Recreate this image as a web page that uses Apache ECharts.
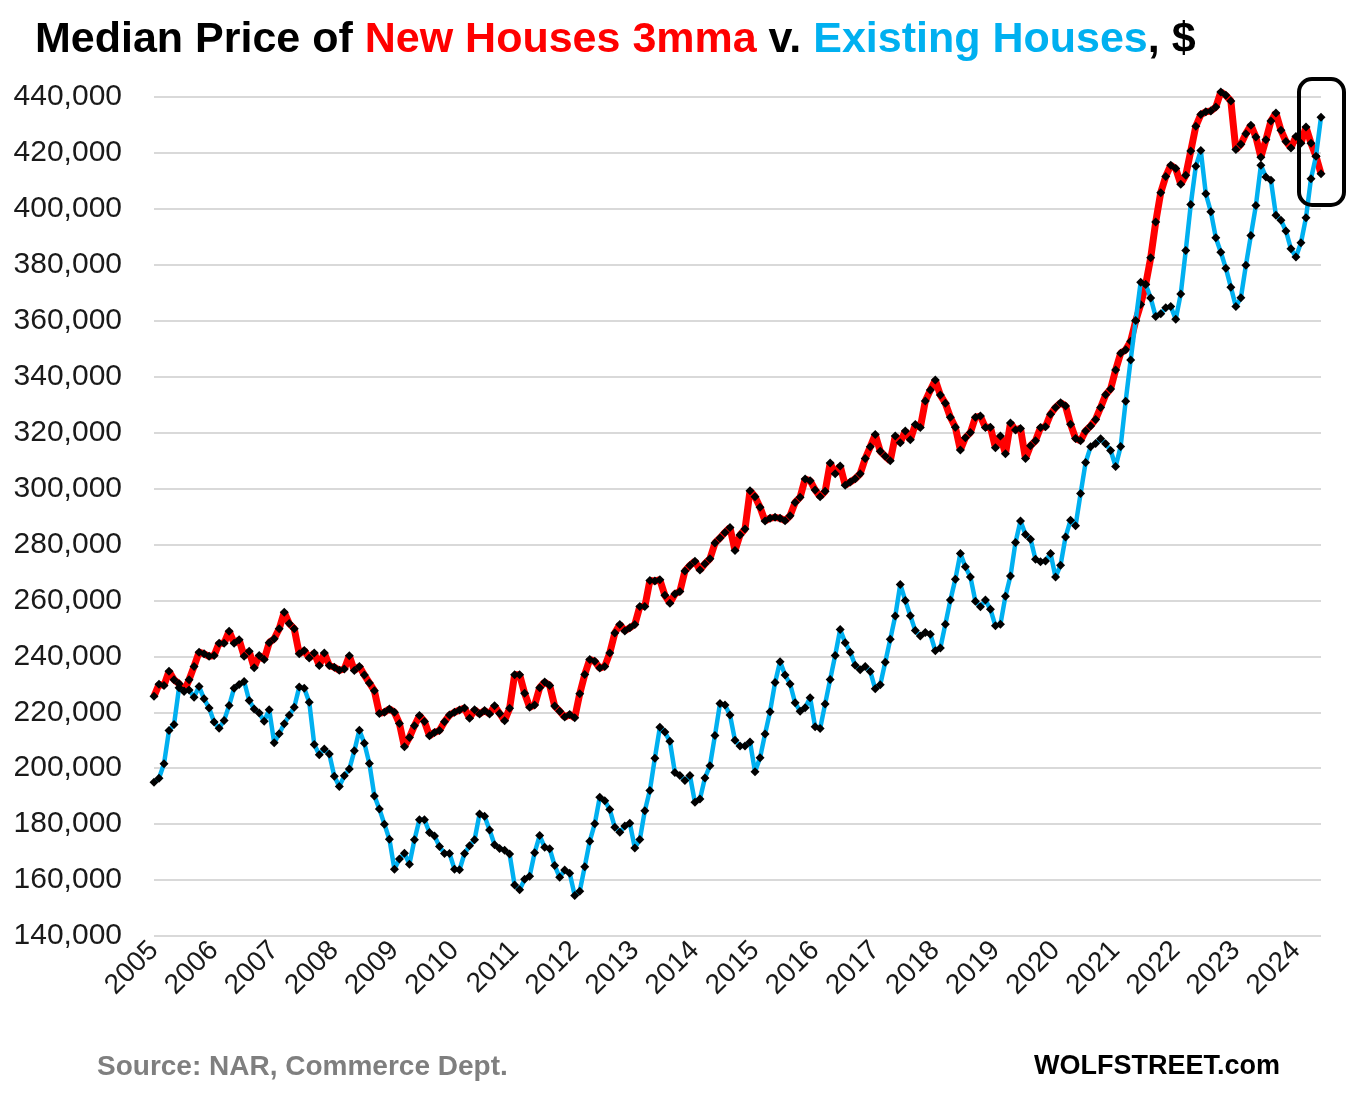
<!DOCTYPE html>
<html><head><meta charset="utf-8">
<script src="https://cdn.jsdelivr.net/npm/echarts@6.0.0/dist/echarts.min.js"></script>
<style>html,body{margin:0;padding:0;background:#fff}#c{width:1350px;height:1103px}</style>
</head><body><div id="c"></div>
<script>
// Monthly, Jan 2005 .. Jun 2024
const startYear = 2005, endYear = 2024, lastMonth = 6;
const yearLabels = [];
for (let y = startYear; y <= endYear; y++) yearLabels.push(String(y));
const months = [];
yearLabels.forEach(y => { for (let m = 1; m <= 12; m++) { if (+y === endYear && m > lastMonth) break; months.push(y + '-' + (m < 10 ? '0' + m : m)); } });

// Median price of new houses, 3-month moving average ($)
const newHouses3mma = [
225700,230000,229600,234700,231600,230200,227500,231600,236400,241500,240900,240000,
240300,244700,244700,249000,244700,245900,240000,241800,235900,240300,238900,244900,
246300,249900,255800,251700,249900,240900,242100,239400,241200,236700,241200,236700,
236100,235000,235500,240200,234900,236400,233300,230500,227700,219600,220000,221200,
220000,216000,207700,211000,215200,218800,216700,211600,212800,213500,216600,219000,
220000,220800,221500,217900,220900,219400,220600,219400,222300,219600,217000,221400,
233400,233400,226800,221800,222600,228800,230800,229600,222200,220400,218300,219200,
218000,226600,233500,238900,238200,235800,236400,241200,248300,251400,249100,250200,
251400,257800,257800,267100,266900,267400,261800,259000,262300,263200,270500,272500,
274000,270900,273100,274900,280500,282300,284300,286100,277800,283400,285500,299200,
297100,293300,288400,289400,289700,289400,288500,290300,295000,296900,303400,302800,
299500,297100,299000,309100,305300,308100,301200,302300,303500,305300,310700,314900,
319300,313300,311500,309900,318800,316400,320600,317400,322900,321800,331300,335200,
338800,333400,330500,325500,321900,313800,318200,320000,325500,325900,321800,321900,
314600,318800,312400,323400,320900,321500,310700,315300,317100,321800,322100,326600,
329000,330700,329500,323000,317900,317100,320600,322400,324700,329000,333500,335600,
342400,348400,349600,352700,359900,365800,373000,382500,395300,405800,411600,415600,
414400,408800,412000,420700,429500,433700,434700,435000,436400,441800,440600,438600,
421200,423100,426900,429900,425700,418500,424700,431400,434300,428100,424100,421800,
425900,423500,429300,423500,418800,412600
];

// Median price of existing houses ($)
const existingHouses = [
195000,196400,201600,213500,215600,228800,227500,228000,225400,229200,224800,221500,
216500,214300,217100,222400,228600,229900,231000,224200,221200,219700,216800,220900,
209100,212300,215900,218900,221800,229000,228600,223600,208500,204800,206900,205100,
197100,193500,197300,199700,206200,213600,208900,201700,190100,185400,180000,174600,
163900,167500,169600,165700,174400,181600,181600,177000,175800,172000,169500,169500,
163900,163700,169500,172300,174400,183600,182800,177900,172600,171300,170700,169300,
158200,156500,160300,161400,169800,175900,171700,171200,165200,161000,163600,162400,
154500,156000,164800,173900,180100,189600,188400,185200,178900,177100,179300,180300,
171500,174500,184800,192000,203600,214600,212900,209600,198500,197400,195600,197400,
187800,189000,196500,200900,211700,223100,222600,219000,210000,207900,207900,209400,
198700,203700,212200,220200,230600,238100,233300,230100,223400,220400,221600,225200,
214800,214200,223000,231700,240300,249600,244900,241500,236800,235200,236400,234600,
228400,229800,237900,246100,254400,265700,260000,254500,249200,247300,248500,247900,
242000,243000,251500,260100,267600,276800,272000,268400,259700,257700,260100,256800,
250900,251500,261500,268700,280700,288400,283600,281900,274700,273800,274100,276800,
268400,272600,282700,288700,286700,298200,309300,314900,316100,317800,316000,313600,
307900,315000,331200,346000,360100,373800,373000,368100,361500,362500,364600,365100,
360500,369600,385100,401600,415200,420900,405400,399000,389700,384500,378800,372000,
365100,368200,379800,390500,401200,415600,411400,410200,397700,395900,392100,385700,
382800,387900,396800,410800,418800,432800
];

const yMin = 140000, yMax = 440000, yStep = 20000;

const chart = echarts.init(document.getElementById('c'), null, {renderer: 'canvas'});
const FONT = 'Liberation Sans';
chart.setOption({
  animation: false,
  backgroundColor: '#ffffff',
  title: {
    left: 30, top: 14,
    text: '{k|Median Price of }{r|New Houses 3mma}{k| v. }{b|Existing Houses}{k|, $}',
    textStyle: {
      rich: {
        k: {color: '#000000', fontSize: 43, fontWeight: 'bold', fontFamily: FONT},
        r: {color: '#FF0000', fontSize: 43, fontWeight: 'bold', fontFamily: FONT},
        b: {color: '#00B0F0', fontSize: 43, fontWeight: 'bold', fontFamily: FONT}
      }
    }
  },
  grid: {left: 154, right: 29, top: 97, bottom: 167, containLabel: false},
  xAxis: {
    type: 'category', data: months, boundaryGap: false,
    axisLine: {show: false}, axisTick: {show: false},
    splitLine: {show: false},
    axisLabel: {
      interval: 11, rotate: 45, margin: 10,
      fontSize: 28, fontFamily: FONT, color: '#1a1a1a',
      formatter: v => v.slice(0, 4)
    }
  },
  yAxis: {
    type: 'value', min: yMin, max: yMax, interval: yStep,
    axisLine: {show: false}, axisTick: {show: false},
    splitLine: {lineStyle: {color: '#D9D9D9', width: 2}},
    axisLabel: {
      margin: 32, fontSize: 30, fontFamily: FONT, color: '#1a1a1a',
      formatter: v => v.toLocaleString('en-US')
    }
  },
  series: [
    {
      name: 'New Houses 3mma', type: 'line', data: newHouses3mma, clip: false,
      symbol: 'diamond', symbolSize: 9, showAllSymbol: true,
      lineStyle: {color: '#FF0000', width: 7},
      itemStyle: {color: '#000000'}, z: 2
    },
    {
      name: 'Existing Houses', type: 'line', data: existingHouses, clip: false,
      symbol: 'diamond', symbolSize: 9, showAllSymbol: true,
      lineStyle: {color: '#00B0F0', width: 4.5},
      itemStyle: {color: '#000000'}, z: 3
    }
  ],
  graphic: [
    {type: 'rect', shape: {x: 1299, y: 79, width: 45, height: 126, r: 13},
     style: {fill: 'none', stroke: '#000000', lineWidth: 4}, z: 10},
    {type: 'text', left: 97, top: 1053,
     style: {text: 'Source: NAR, Commerce Dept.', fill: '#7F7F7F', font: 'bold 28px "Liberation Sans"'}},
    {type: 'text', right: 70, top: 1053,
     style: {text: 'WOLFSTREET.com', fill: '#000000', font: 'bold 27px "Liberation Sans"'}}
  ]
});
</script>
</body></html>
